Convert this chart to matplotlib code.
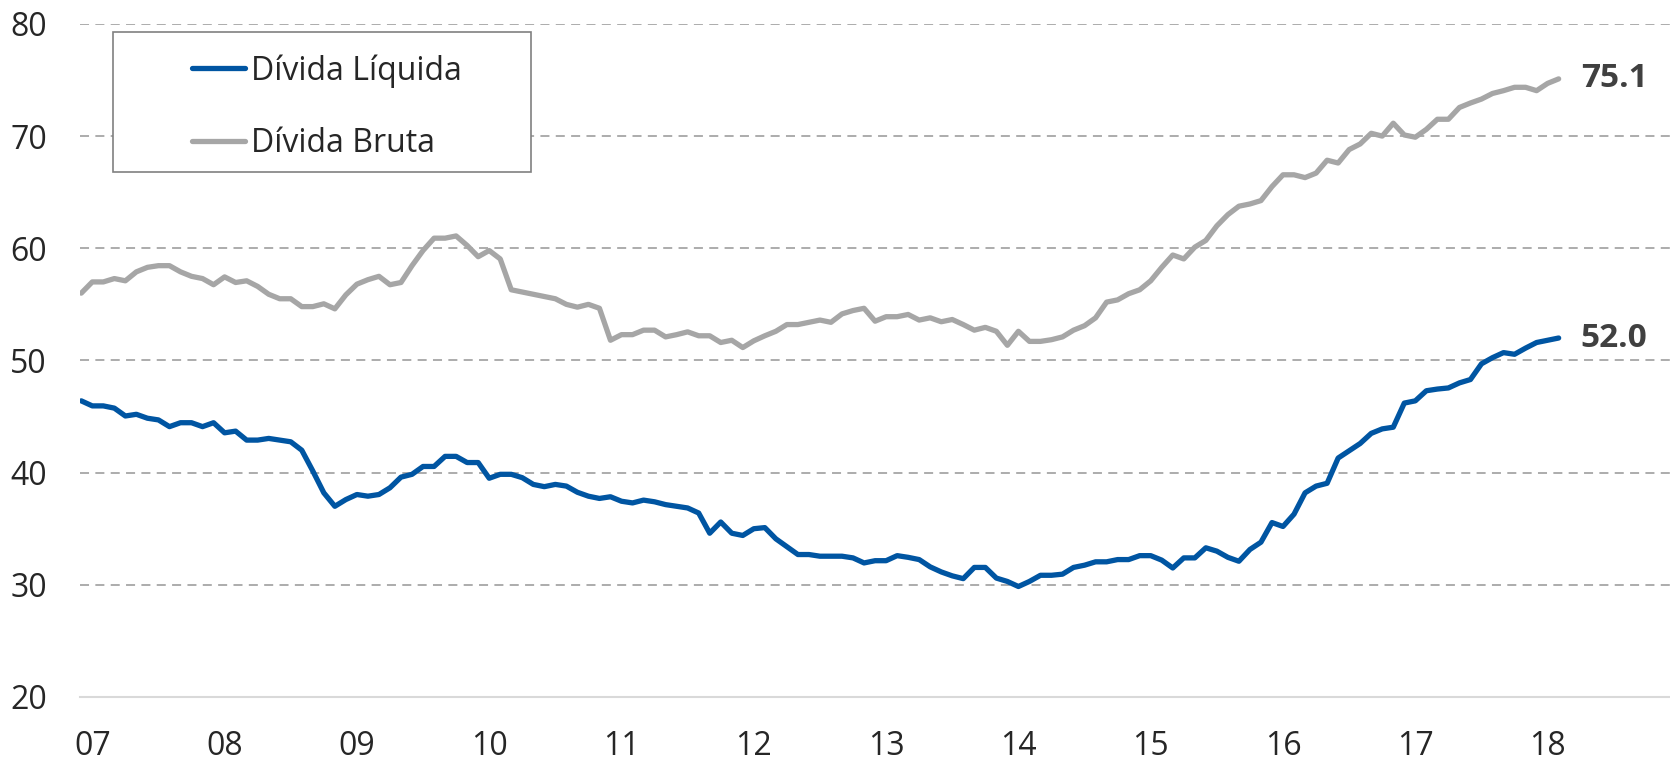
import numpy as np
import matplotlib
matplotlib.use("Agg")
import matplotlib.pyplot as plt
from matplotlib.patches import Rectangle

plt.rcParams['font.family'] = ['Open Sans', 'DejaVu Sans']

# monthly values, Dec 2006 .. Feb 2018 (% of GDP)
divida_liquida = [
    46.4, 45.95, 45.95, 45.75, 45.05, 45.2, 44.85, 44.7, 44.1, 44.45, 44.45, 44.1,
    44.45, 43.55, 43.7, 42.9, 42.9, 43.05, 42.9, 42.75, 42.0, 40.15, 38.2, 37.0,
    37.6, 38.05, 37.9, 38.05, 38.65, 39.6, 39.85, 40.55, 40.55, 41.45, 41.45, 40.9,
    40.9, 39.5, 39.85, 39.85, 39.55, 38.95, 38.75, 38.95, 38.8, 38.25, 37.9, 37.7,
    37.85, 37.45, 37.3, 37.55, 37.4, 37.15, 37.0, 36.85, 36.4, 34.6, 35.6, 34.6,
    34.4, 35.0, 35.1, 34.1, 33.4, 32.7, 32.7, 32.55, 32.55, 32.55, 32.4, 31.95,
    32.15, 32.15, 32.6, 32.45, 32.25, 31.6, 31.15, 30.8, 30.55, 31.55, 31.55, 30.6,
    30.3, 29.85, 30.3, 30.85, 30.85, 30.95, 31.55, 31.75, 32.05, 32.05, 32.25, 32.25,
    32.6, 32.6, 32.2, 31.5, 32.4, 32.4, 33.3, 33.0, 32.45, 32.1, 33.15, 33.8,
    35.55, 35.2, 36.3, 38.2, 38.8, 39.05, 41.3, 41.95, 42.6, 43.5, 43.9, 44.05,
    46.2, 46.4, 47.3, 47.45, 47.55, 48.0, 48.3, 49.7, 50.25, 50.7, 50.55, 51.1,
    51.6, 51.8, 52.0,
]
divida_bruta = [
    56.0, 57.0, 57.0, 57.3, 57.1, 57.9, 58.3, 58.45, 58.45, 57.9, 57.5, 57.3,
    56.75, 57.45, 56.95, 57.1, 56.6, 55.9, 55.5, 55.5, 54.8, 54.8, 55.05, 54.6,
    55.85, 56.8, 57.2, 57.5, 56.75, 56.95, 58.45, 59.8, 60.9, 60.9, 61.1, 60.25,
    59.25, 59.8, 59.05, 56.3, 56.1, 55.9, 55.7, 55.5, 55.0, 54.75, 55.0, 54.65,
    51.8, 52.3, 52.3, 52.7, 52.7, 52.1, 52.3, 52.55, 52.2, 52.2, 51.6, 51.8,
    51.15, 51.75, 52.2, 52.6, 53.2, 53.2, 53.4, 53.6, 53.4, 54.15, 54.45, 54.65,
    53.5, 53.9, 53.9, 54.1, 53.6, 53.8, 53.45, 53.65, 53.2, 52.7, 52.95, 52.6,
    51.35, 52.6, 51.7, 51.7, 51.85, 52.1, 52.7, 53.1, 53.8, 55.2, 55.4, 55.95,
    56.3, 57.1, 58.3, 59.4, 59.05, 60.1, 60.7, 62.0, 63.0, 63.75, 63.95, 64.25,
    65.5, 66.55, 66.55, 66.3, 66.7, 67.85, 67.6, 68.8, 69.3, 70.25, 70.0, 71.15,
    70.1, 69.9, 70.6, 71.5, 71.5, 72.55, 72.95, 73.3, 73.8, 74.05, 74.35, 74.35,
    74.05, 74.7, 75.1,
]
anos = ['07', '08', '09', '10', '11', '12', '13', '14', '15', '16', '17', '18']
labels = ['Dívida Líquida', 'Dívida Bruta']

AZUL = '#0055A2'
CINZA = '#A6A6A6'
TEXTO = '#262626'

meses = np.arange(len(divida_liquida))

fig = plt.figure(figsize=(16.7, 7.64), dpi=100)
ax = fig.add_axes([0.048, 0.0877, 0.952, 0.881])

ax.plot(meses, divida_liquida, color=AZUL, lw=3.8, solid_capstyle='round',
        solid_joinstyle='round', label=labels[0], zorder=3)
ax.plot(meses, divida_bruta, color=CINZA, lw=3.8, solid_capstyle='round',
        solid_joinstyle='round', label=labels[1], zorder=3)

# rotulos do ultimo valor
for serie in (divida_bruta, divida_liquida):
    ax.annotate(f'{serie[-1]:.1f}', xy=(meses[-1], serie[-1]), xytext=(16, 0),
                textcoords='offset points', va='center', ha='left',
                fontsize=24, fontweight='bold', color='#404040')

ax.set_xlim(-0.1, 144.1)
ax.set_ylim(20, 80)
ax.set_yticks(range(20, 81, 10))
ax.set_xticks(np.arange(1, len(divida_liquida), 12))
ax.set_xticklabels(anos)

for y in range(30, 81, 10):
    ax.axhline(y, color=CINZA, lw=1.3, ls=(0, (5, 3.5)), zorder=1)

for s in ['top', 'right', 'left']:
    ax.spines[s].set_visible(False)
ax.spines['bottom'].set_color('#D9D9D9')
ax.spines['bottom'].set_linewidth(1.5)

ax.tick_params(axis='both', length=0, labelsize=23, labelcolor=TEXTO)
ax.tick_params(axis='y', pad=24)
ax.tick_params(axis='x', pad=24)

# legenda com moldura propria (fundo branco cobre a grade)
W, H = 1670, 764
ax.add_patch(Rectangle((113 / W, 1 - 172 / H), 418 / W, 140 / H,
                       transform=fig.transFigure, facecolor='white',
                       edgecolor='#808080', lw=1.2, zorder=4, clip_on=False))
leg = ax.legend(loc='upper left', bbox_to_anchor=(192 / W, 1 - 54 / H),
                bbox_transform=fig.transFigure, frameon=False, fontsize=23,
                handlelength=1.65, handletextpad=0.2, borderpad=0,
                borderaxespad=0, labelspacing=1.25)
leg.set_zorder(6)
for t in leg.get_texts():
    t.set_color(TEXTO)

fig.savefig('out.png', dpi=100)
